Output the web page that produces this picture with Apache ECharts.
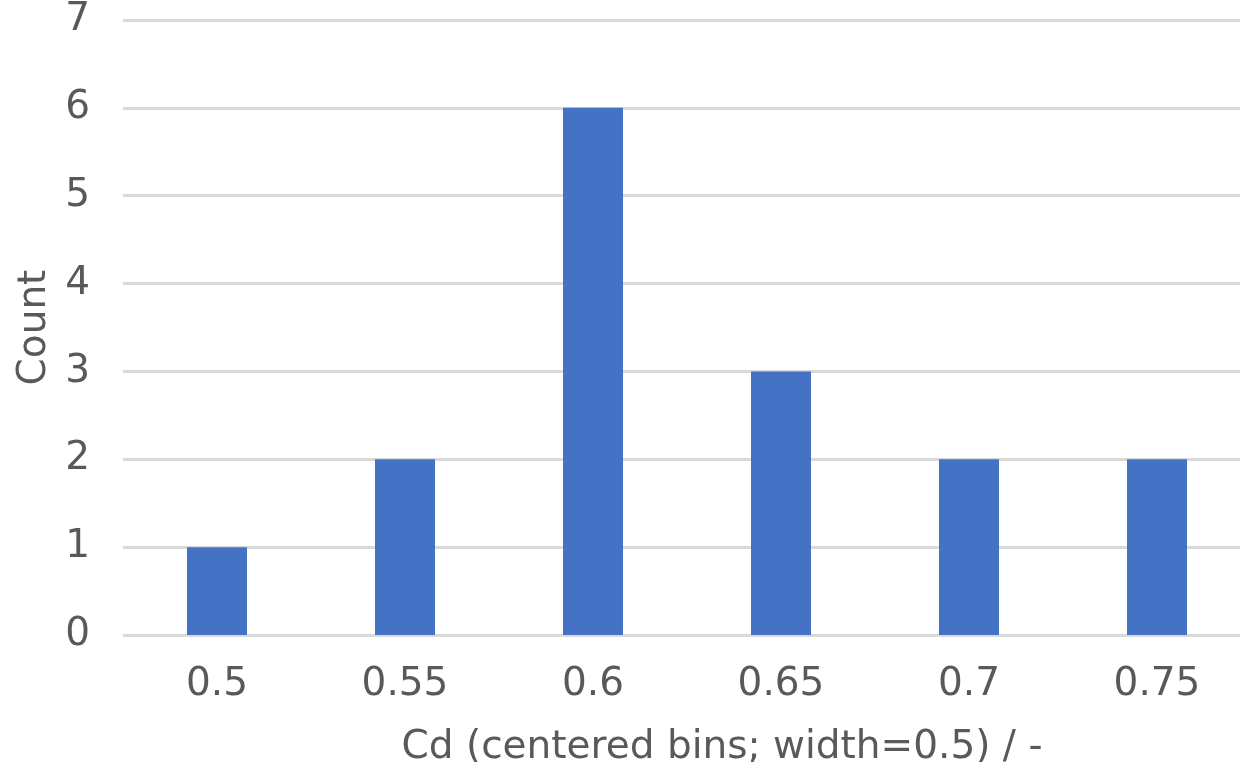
<!DOCTYPE html>
<html><head><meta charset="utf-8">
<script src="https://cdn.jsdelivr.net/npm/echarts@6/dist/echarts.min.js"></script>
<style>html,body{margin:0;padding:0;background:#fff}#c{width:1240px;height:762px}</style>
</head><body><div id="c"></div>
<script>
const categories = ['0.5', '0.55', '0.6', '0.65', '0.7', '0.75'];
const counts = [1, 2, 6, 3, 2, 2];
const xTitle = 'Cd (centered bins; width=0.5) / -';
const yTitle = 'Count';

const FONT = 'DejaVu Sans';
const TXT = '#595959';
const chart = echarts.init(document.getElementById('c'), null, {renderer: 'canvas'});
chart.setOption({
  animation: false,
  backgroundColor: '#ffffff',
  grid: {left: 123, top: 20, width: 1128, height: 615, containLabel: false, outerBoundsMode: 'none'},
  xAxis: {
    type: 'category',
    data: categories,
    axisLine: {show: false},
    axisTick: {show: false},
    axisLabel: {color: TXT, fontFamily: FONT, fontSize: 39, margin: 30},
    name: xTitle,
    nameLocation: 'middle',
    nameGap: 93,
    nameTextStyle: {color: TXT, fontFamily: FONT, fontSize: 39, padding: [0, 0, 0, 70]}
  },
  yAxis: {
    type: 'value',
    min: 0, max: 7, interval: 1,
    axisLine: {show: false},
    axisTick: {show: false},
    splitLine: {lineStyle: {color: '#d9d9d9', width: 3}},
    axisLabel: {color: TXT, fontFamily: FONT, fontSize: 39, margin: 33, padding: [14, 0, 0, 0]},
    name: yTitle,
    nameLocation: 'middle',
    nameGap: 68,
    nameRotate: 90,
    nameTextStyle: {color: TXT, fontFamily: FONT, fontSize: 39}
  },
  series: [{
    type: 'bar',
    data: counts,
    barWidth: 60,
    itemStyle: {color: '#4472C4'}
  }]
});
</script></body></html>
